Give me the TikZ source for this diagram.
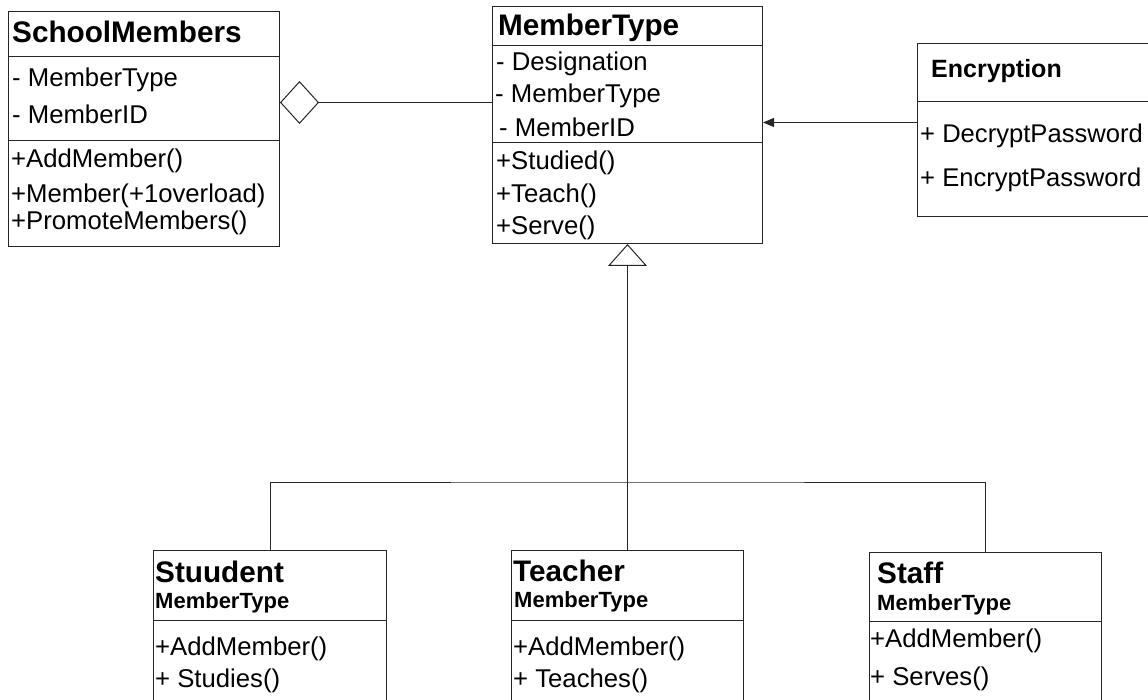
\documentclass[tikz,border=0pt]{standalone}
\usepackage{fontspec}
\setmainfont{Liberation Sans}
\usetikzlibrary{arrows.meta, positioning}

\begin{document}
\begin{tikzpicture}[
    x=1pt, y=-1pt,
    every node/.style={inner sep=0pt, anchor=base west, text=black},
    classbox/.style={draw=black!85, line width=1pt, anchor=north west},
    title/.style={font=\bfseries\fontsize{29.7}{34}\selectfont},
    smalltitle/.style={font=\bfseries\fontsize{25}{29}\selectfont},
    stereo/.style={font=\bfseries\fontsize{22}{26}\selectfont},
    entry/.style={font=\fontsize{25.7}{30}\selectfont},
    divider/.style={draw=black!85, line width=1pt},
    aggr/.style={{Diamond[open, length=39pt, width=43pt]}-, line width=1pt, draw=black!85},
    inherit/.style={{Triangle[open, length=22pt, width=39pt]}-, line width=1pt, draw=black!85},
    assoc/.style={-{Triangle[length=11pt, width=9pt]}, line width=1pt, draw=black!85},
    link/.style={line width=1pt, draw=black!85},
]
\useasboundingbox (0,0) rectangle (1148,700);
\clip (0,0) rectangle (1148,700);

%% SchoolMembers
\node[classbox, minimum width=271pt, minimum height=235pt] (school) at (8,11) {};
\node[title] (school-name) at (12,43) {SchoolMembers};
\node[entry] (school-a1) at (12,87) {- MemberType};
\node[entry] (school-a2) at (12,124) {- MemberID};
\node[entry] (school-m1) at (11,168) {+AddMember()};
\node[entry] (school-m2) at (11,203) {+Member(+1overload)};
\node[entry] (school-m3) at (11,230) {+PromoteMembers()};
\draw[divider] (school.west |- 0,57) -- (school.east |- 0,57);
\draw[divider] (school.west |- 0,141) -- (school.east |- 0,141);

%% MemberType
\node[classbox, minimum width=270pt, minimum height=237pt] (member) at (492,6) {};
\node[title] (member-name) at (498,36) {MemberType};
\node[entry] (member-a1) at (496,71) {- Designation};
\node[entry] (member-a2) at (495,103) {- MemberType};
\node[entry] (member-a3) at (499,137) {- MemberID};
\node[entry] (member-m1) at (496,170) {+Studied()};
\node[entry] (member-m2) at (496,203) {+Teach()};
\node[entry] (member-m3) at (496,235) {+Serve()};
\draw[divider] (member.west |- 0,46) -- (member.east |- 0,46);
\draw[divider] (member.west |- 0,143) -- (member.east |- 0,143);

%% Encryption
\node[classbox, minimum width=253pt, minimum height=173pt] (encrypt) at (917,43) {};
\node[smalltitle] (encrypt-name) at (931,78) {Encryption};
\node[entry, font=\fontsize{25.6}{30}\selectfont] (encrypt-m1) at (920,143) {+ DecryptPassword};
\node[entry, font=\fontsize{25.6}{30}\selectfont] (encrypt-m2) at (920,187) {+ EncryptPassword};
\draw[divider] (encrypt.west |- 0,102) -- (encrypt.east |- 0,102);

%% Stuudent
\node[classbox, minimum width=233pt, minimum height=170pt] (student) at (153,550) {};
\node[title] (student-name) at (155,582) {Stuudent};
\node[stereo] (student-type) at (155,608) {MemberType};
\node[entry] (student-m1) at (155,655) {+AddMember()};
\node[entry] (student-m2) at (155,687) {+ Studies()};
\draw[divider] (student.west |- 0,620) -- (student.east |- 0,620);

%% Teacher
\node[classbox, minimum width=232pt, minimum height=170pt] (teacher) at (511,550) {};
\node[title] (teacher-name) at (513,581) {Teacher};
\node[stereo] (teacher-type) at (514,607) {MemberType};
\node[entry] (teacher-m1) at (513,655) {+AddMember()};
\node[entry] (teacher-m2) at (513,687) {+ Teaches()};
\draw[divider] (teacher.west |- 0,620) -- (teacher.east |- 0,620);

%% Staff
\node[classbox, minimum width=232pt, minimum height=168pt] (staff) at (869,552) {};
\node[title] (staff-name) at (877,583) {Staff};
\node[stereo] (staff-type) at (877,610) {MemberType};
\node[entry] (staff-m1) at (870,647) {+AddMember()};
\node[entry] (staff-m2) at (870,685) {+ Serves()};
\draw[divider] (staff.west |- 0,621) -- (staff.east |- 0,621);

%% Connections
\coordinate (aggrin) at ([yshift=26.5pt]school.east);
\draw[aggr] (aggrin) -- (aggrin -| member.west);

\coordinate (encin) at ([yshift=7.5pt]encrypt.west);
\draw[assoc] (encin) -- (encin -| member.east);

\coordinate (bus) at (member.south |- 0,482);
\draw[inherit] (member.south) -- (teacher.north);
\draw[link] (student.north) |- (bus) -| (staff.north);

\end{tikzpicture}
\end{document}
